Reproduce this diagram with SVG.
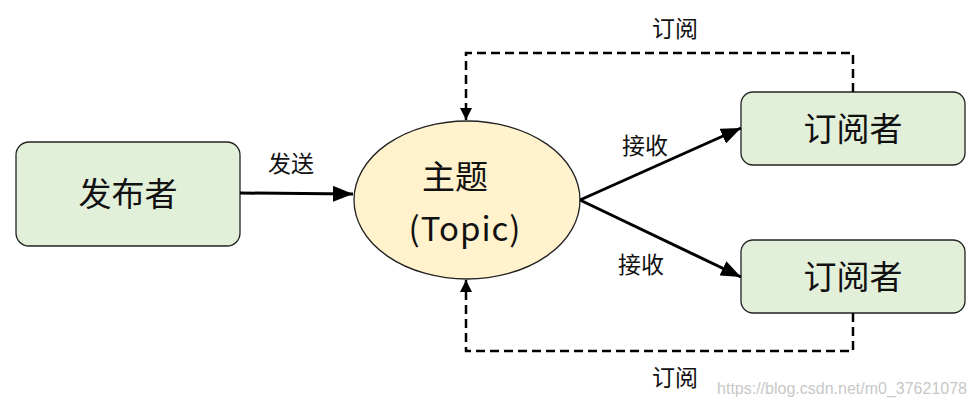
<svg xmlns="http://www.w3.org/2000/svg" width="978" height="409" viewBox="0 0 978 409">
<defs>
<marker id="big" viewBox="0 0 20 16" refX="20" refY="8" markerWidth="20" markerHeight="16" orient="auto" markerUnits="userSpaceOnUse">
<path d="M0,0 L20,8 L0,16 Z" fill="#000"/>
</marker>
<marker id="small" viewBox="0 0 12 12" refX="12" refY="6" markerWidth="12" markerHeight="12" orient="auto" markerUnits="userSpaceOnUse">
<path d="M0,0 L12,6 L0,12 Z" fill="#000"/>
</marker>
</defs>
<style>
.box{fill:#e2efd9;stroke:#222;stroke-width:1.3}
.t{font-family:"Noto Sans CJK SC","Liberation Sans",sans-serif;fill:#111;text-anchor:middle}
.big{font-size:33px}
.lbl{font-size:23px}
.solid{stroke:#000;stroke-width:3;fill:none}
.dash{stroke:#000;stroke-width:2.5;fill:none;stroke-dasharray:9,5}
</style>
<rect width="978" height="409" fill="#fff"/>
<g id="publisher">
<rect class="box" x="16" y="142" width="224" height="104" rx="13"/>
<text class="t big" x="128" y="206">发布者</text>
</g>
<g id="topic">
<ellipse cx="467" cy="200" rx="113" ry="79" fill="#fff2cc" stroke="#222" stroke-width="1.3"/>
<text class="t big" x="455" y="189">主题</text>
<text class="t big" x="465" y="241" letter-spacing="1">(Topic)</text>
</g>
<g id="subscriber1">
<rect class="box" x="741" y="92" width="224" height="73" rx="12"/>
<text class="t big" x="853" y="141">订阅者</text>
</g>
<g id="subscriber2">
<rect class="box" x="741" y="240" width="224" height="73" rx="12"/>
<text class="t big" x="853" y="289">订阅者</text>
</g>
<g id="connectors">
<line class="solid" x1="240" y1="193" x2="353" y2="194" marker-end="url(#big)"/>
<line class="solid" x1="580" y1="200" x2="741" y2="128" marker-end="url(#big)"/>
<line class="solid" x1="580" y1="200" x2="741" y2="277" marker-end="url(#big)"/>
<path class="dash" d="M853,92 V53 H466 V120" marker-end="url(#small)"/>
<path class="dash" d="M853,313 V351 H466 V280" marker-end="url(#small)"/>
</g>
<g id="labels">
<text class="t lbl" x="291" y="172">发送</text>
<text class="t lbl" x="645" y="154">接收</text>
<text class="t lbl" x="641" y="273">接收</text>
<text class="t lbl" x="675" y="37">订阅</text>
<text class="t lbl" x="675" y="386">订阅</text>
<text x="967" y="394" font-family="Liberation Sans, sans-serif" font-size="16" fill="#c8c8c8" text-anchor="end">https://blog.csdn.net/m0_37621078</text>
</g>
</svg>
